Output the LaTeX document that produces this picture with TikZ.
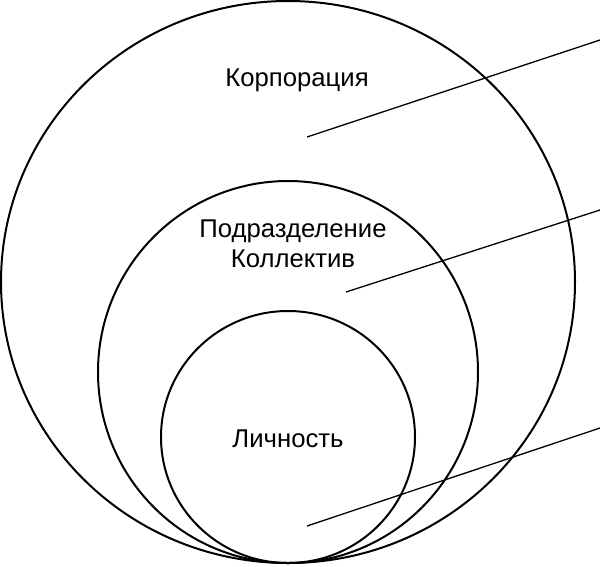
\documentclass[tikz,border=0pt]{standalone}
\usepackage{fontspec}
\setmainfont{Liberation Sans}
\begin{document}
\begin{tikzpicture}[x=1pt,y=-1pt,
  ring/.style={draw=black,line width=2pt},
  leader/.style={draw=black,line width=1.3pt},
  lbl/.style={anchor=base,inner sep=0pt,font=\fontsize{25.7}{30}\selectfont}]
\useasboundingbox (0,0) rectangle (600,566);
% circles tangent at the bottom
\coordinate (cL) at (288,282);
\coordinate (cM) at (288,372);
\coordinate (cS) at (288,437);
\draw[ring] (cL) ellipse [x radius=287, y radius=281];
\draw[ring] (cM) ellipse [x radius=190, y radius=191];
\draw[ring] (cS) ellipse [x radius=127, y radius=126];
% labels
\node[lbl] (corp) at (297,86) {Корпорация};
\node[lbl] (div) at (293,237) {Подразделение};
\node[lbl] (coll) at (293,267) {Коллектив};
\node[lbl] (pers) at (288,447) {Личность};
% leader lines
\coordinate (a1) at (307,137);
\coordinate (b1) at (600,40);
\coordinate (a2) at (346,292);
\coordinate (b2) at (600,210);
\coordinate (a3) at (307,526);
\coordinate (b3) at (600,428);
\draw[leader] (a1) -- (b1);
\draw[leader] (a2) -- (b2);
\draw[leader] (a3) -- (b3);
\end{tikzpicture}
\end{document}
